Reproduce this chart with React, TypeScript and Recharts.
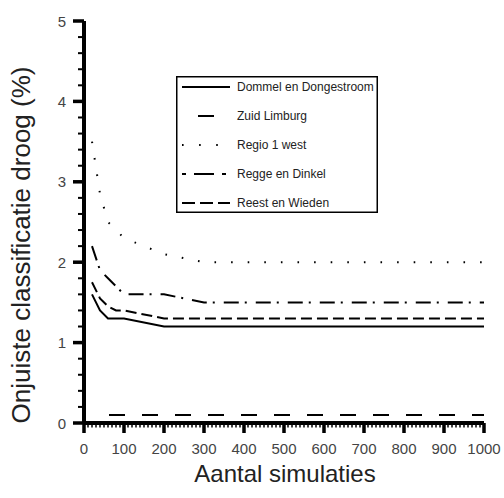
import React from "react";
import { LineChart, Line, XAxis, YAxis, Legend } from "recharts";

// aantal simulaties
const simulaties = [20, 40, 60, 80, 100, 200, 300, 400, 500, 600, 700, 800, 900, 1000];

// onjuiste classificatie droog (%) per regio
const dommel = [1.6, 1.4, 1.3, 1.3, 1.3, 1.2, 1.2, 1.2, 1.2, 1.2, 1.2, 1.2, 1.2, 1.2];
const zuidLimburg = [0.1, 0.1, 0.1, 0.1, 0.1, 0.1, 0.1, 0.1, 0.1, 0.1, 0.1, 0.1, 0.1, 0.1];
const regio1West = [3.5, 2.85, 2.5, 2.4, 2.3, 2.1, 2.0, 2.0, 2.0, 2.0, 2.0, 2.0, 2.0, 2.0];
const reggeDinkel = [2.2, 1.9, 1.8, 1.7, 1.6, 1.6, 1.5, 1.5, 1.5, 1.5, 1.5, 1.5, 1.5, 1.5];
const reestWieden = [1.75, 1.55, 1.45, 1.4, 1.4, 1.3, 1.3, 1.3, 1.3, 1.3, 1.3, 1.3, 1.3, 1.3];

const xMajor = [0, 100, 200, 300, 400, 500, 600, 700, 800, 900, 1000];
const yMajor = [0, 1, 2, 3, 4, 5];

const FONT = '"Liberation Sans", Arial, sans-serif';

const series = [
  { key: "dommel", label: "Dommel en Dongestroom", dash: undefined, offset: 0, legendDash: undefined },
  { key: "zuid", label: "Zuid Limburg", dash: "16 17", offset: 16, legendDash: "0 16 16 16" },
  { key: "regio", label: "Regio 1 west", dash: "1.6 15", offset: 0, legendDash: "1.6 15.5" },
  { key: "regge", label: "Regge en Dinkel", dash: "15 6 2 9", offset: 0, legendDash: "4 8 20 8 4 50" },
  { key: "reest", label: "Reest en Wieden", dash: "11 5", offset: 0, legendDash: "13 5" },
];

const data = simulaties.map((x, i) => ({
  x,
  dommel: dommel[i],
  zuid: zuidLimburg[i],
  regio: regio1West[i],
  regge: reggeDinkel[i],
  reest: reestWieden[i],
}));

// minor ticks every 10 on x, every 0.2 on y
const xTicks: number[] = [];
for (let v = 0; v <= 1000; v += 10) xTicks.push(v);
const yTicks: number[] = [];
for (let i = 0; i <= 25; i++) yTicks.push(Math.round(i * 2) / 10);

// tick marks drawn as rects so they stay crisp
const YTick = ({ x, y, payload }: any) => {
  const major = yMajor.includes(payload.value);
  const len = major ? 11 : 6;
  const w = major ? 3.5 : 2;
  return (
    <g>
      <rect x={x - len} y={y - w / 2} width={len} height={w} fill="#000" />
      {major ? (
        <text x={x - 18} y={y} textAnchor="end" dominantBaseline="central" fontSize={15} fill="#444" fontFamily={FONT}>
          {payload.value}
        </text>
      ) : null}
    </g>
  );
};

const XTick = ({ x, y, payload }: any) => {
  const major = xMajor.includes(payload.value);
  const len = major ? 10 : 4.5;
  const w = major ? 3.5 : 1.5;
  return (
    <g>
      <rect x={x - w / 2} y={y} width={w} height={len} fill="#000" />
      {major ? (
        <text x={x} y={y + 25} textAnchor="middle" dominantBaseline="central" fontSize={15} fill="#444" fontFamily={FONT}>
          {payload.value}
        </text>
      ) : null}
    </g>
  );
};

const LegendBox = () => (
  <svg width={202} height={137} style={{ display: "block" }}>
    <rect x={0.75} y={0.75} width={200.5} height={135.5} fill="#fff" stroke="#000" strokeWidth={1.5} />
    {series.map((s, i) => {
      const cy = 11 + i * 29;
      return (
        <g key={s.key}>
          <line x1={6} x2={54} y1={cy} y2={cy} stroke="#000" strokeWidth={2} strokeDasharray={s.legendDash} />
          <text x={61} y={cy} dominantBaseline="central" fontSize={12} fill="#222" fontFamily={FONT}>
            {s.label}
          </text>
        </g>
      );
    })}
  </svg>
);

export default function App() {
  return (
    <div style={{ position: "absolute", left: 0, top: 0, width: 504, height: 498, background: "#fff" }}>
      <LineChart width={504} height={498} data={data} margin={{ top: 21, right: 20, bottom: 0, left: 0 }}>
        <XAxis
          dataKey="x"
          type="number"
          domain={[0, 1000]}
          ticks={xTicks}
          interval={0}
          tickSize={0}
          tickMargin={0}
          tickLine={false}
          axisLine={{ stroke: "#000", strokeWidth: 4 }}
          tick={<XTick />}
          height={75}
          label={() => (
            <text x={285} y={482} textAnchor="middle" fontSize={24} fill="#222" fontFamily={FONT}>
              Aantal simulaties
            </text>
          )}
        />
        <YAxis
          type="number"
          domain={[0, 5]}
          ticks={yTicks}
          interval={0}
          tickSize={0}
          tickMargin={0}
          tickLine={false}
          axisLine={{ stroke: "#000", strokeWidth: 4 }}
          tick={<YTick />}
          width={84}
          label={() => (
            <text
              x={30}
              y={245}
              transform="rotate(-90 30 245)"
              textAnchor="middle"
              fontSize={26}
              fill="#222"
              fontFamily={FONT}
            >
              Onjuiste classificatie droog (%)
            </text>
          )}
        />
        <Legend
          layout="horizontal"
          verticalAlign="middle"
          align="center"
          content={() => <LegendBox />}
          wrapperStyle={{ left: 176, top: 76, width: 202, height: 137 }}
        />
        {series.map((s) => (
          <Line
            key={s.key}
            dataKey={s.key}
            name={s.label}
            type="linear"
            stroke="#000"
            strokeWidth={2}
            strokeDasharray={s.dash}
            strokeDashoffset={s.offset}
            dot={false}
            activeDot={false}
            isAnimationActive={false}
          />
        ))}
      </LineChart>
    </div>
  );
}
